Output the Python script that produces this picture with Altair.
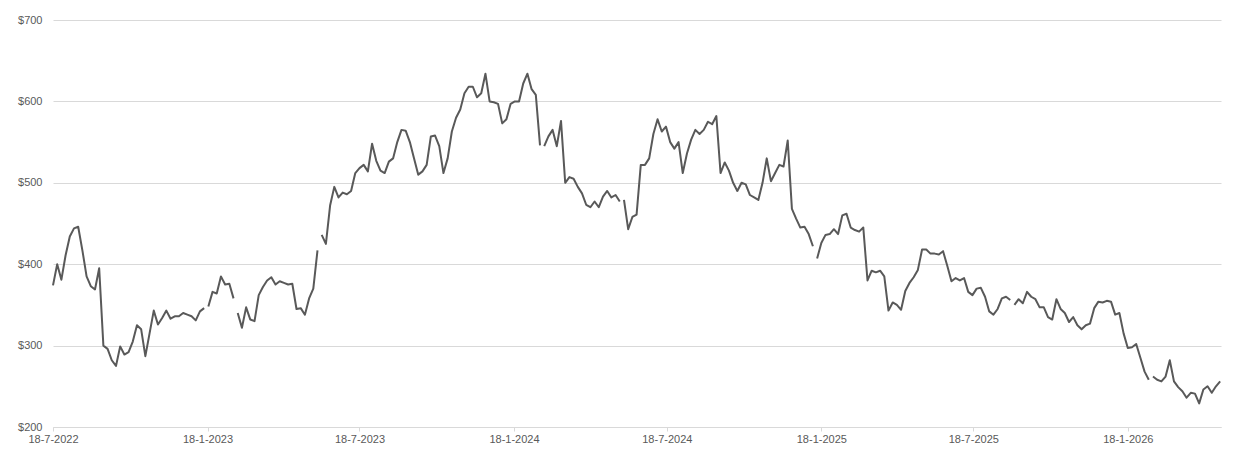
import altair as alt
import pandas as pd

# ---- data (value every 5 days from start_date) ----
start_date = "2022-07-18"
step_days = 5
prices = [
    374, 400, 381, 411, 434, 444, 446, 417, 385, 373,
    369, 395, 300, 296, 282, 275, 299, 289, 292, 305,
    325, 320, 287, 315, 343, 326, 334, 343, 333, 336,
    336, 340, 338, 336, 331, 342, 346, 348, 366, 364,
    385, 375, 376, 358, 340, 322, 347, 332, 330, 362,
    372, 380, 384, 375, 379, 377, 375, 376, 345, 346,
    338, 358, 370, 417, 436, 425, 472, 495, 482, 488,
    486, 490, 512, 518, 522, 514, 548, 527, 515, 512,
    526, 530, 550, 565, 564, 550, 530, 510, 514, 522,
    557, 558, 545, 512, 530, 563, 580, 590, 610, 618,
    618, 605, 610, 634, 600, 599, 597, 573, 578, 597,
    600, 600, 622, 634, 615, 608, 546, 545, 557, 565,
    545, 576, 500, 507, 505, 495, 487, 473, 470, 477,
    470, 483, 490, 482, 485, 477, 479, 443, 458, 461,
    522, 522, 530, 560, 578, 563, 569, 550, 542, 550,
    512, 536, 553, 565, 560, 565, 575, 572, 582, 512,
    525, 515, 500, 490, 500, 498, 485, 482, 479, 500,
    530, 502, 512, 522, 520, 552, 468, 456, 445, 446,
    437, 422, 407, 426, 436, 437, 443, 437, 460, 462,
    445, 442, 440, 445, 380, 392, 390, 392, 385, 343,
    353, 350, 344, 367, 377, 384, 393, 418, 418, 413,
    413, 412, 416, 398, 379, 383, 380, 383, 366, 362,
    370, 371, 360, 342, 338, 345, 358, 360, 356, 350,
    357, 352, 366, 360, 357, 347, 347, 335, 332, 357,
    345, 340, 329, 335, 325, 320, 325, 327, 346, 354,
    353, 355, 354, 338, 340, 315, 297, 298, 302, 285,
    268, 258, 262, 258, 256, 262, 282, 256, 249, 244,
    236, 242, 241, 229, 246, 250, 242, 250, 256,
]
# the line is broken (no data) right after these sample positions
breaks_after = [36, 43, 63, 116, 135, 181, 228, 261]

y_ticks = [200, 300, 400, 500, 600, 700]
x_ticks = ["2022-07-18", "2023-01-18", "2023-07-18", "2024-01-18",
           "2024-07-18", "2025-01-18", "2025-07-18", "2026-01-18"]
x_domain = ["2022-07-18", "2026-05-09"]

# ---- build table ----
dates = pd.date_range(start_date, periods=len(prices), freq=f"{step_days}D")
rows = []
seg = 0
for i, (d, p) in enumerate(zip(dates, prices)):
    rows.append({"date": d.strftime("%Y-%m-%d"), "price": p, "seg": seg})
    if i in breaks_after:
        seg += 1
df = pd.DataFrame(rows)


def dt(s):
    y, m, d = (int(v) for v in s.split("-"))
    return alt.DateTime(year=y, month=m, date=d, utc=True)


grey = "#595959"
light = "#d9d9d9"

chart = (
    alt.Chart(df)
    .mark_line(color=grey, strokeWidth=2, strokeJoin="round")
    .encode(
        x=alt.X(
            "date:T",
            scale=alt.Scale(type="utc", domain=[dt(s) for s in x_domain], nice=False),
            axis=alt.Axis(
                title=None,
                values=[dt(s) for s in x_ticks],
                labelExpr="utcFormat(datum.value, '%-d-%-m-%Y')",
                grid=False,
                domainColor=light,
                tickColor=light,
                tickSize=4,
                labelPadding=2,
                labelOverlap=False,
                labelFlush=False,
                labelBound=False,
            ),
        ),
        y=alt.Y(
            "price:Q",
            scale=alt.Scale(domain=[200, 700], nice=False, zero=False),
            axis=alt.Axis(
                title=None,
                values=y_ticks,
                labelExpr="'$' + datum.value",
                domain=False,
                ticks=False,
                grid=True,
                gridColor=light,
                gridWidth=1,
                labelPadding=11,
            ),
        ),
        detail="seg:N",
    )
    .properties(
        width=1168,
        height=407,
        padding={"left": 45, "top": 12, "right": 3, "bottom": 20},
        autosize=alt.AutoSizeParams(type="none"),
    )
    .configure_view(stroke=None)
    .configure_axis(
        labelFont="Liberation Sans",
        labelFontSize=11,
        labelColor=grey,
    )
)

chart.save("out.html", embed_options={"renderer": "svg", "actions": False})
